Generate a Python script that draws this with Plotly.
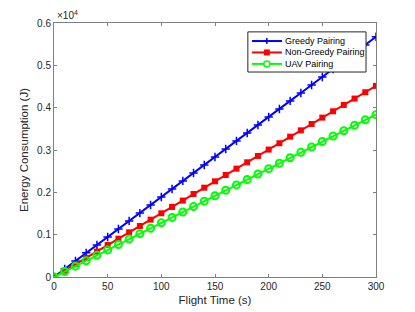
import plotly.graph_objects as go

flight_time = [0, 10, 20, 30, 40, 50, 60, 70, 80, 90, 100, 110, 120, 130, 140, 150,
               160, 170, 180, 190, 200, 210, 220, 230, 240, 250, 260, 270, 280, 290, 300]
greedy = [0, 190, 380, 570, 755, 945, 1135, 1325, 1510, 1700, 1890, 2080, 2270, 2455, 2645,
          2835, 3025, 3215, 3400, 3590, 3780, 3970, 4160, 4345, 4535, 4725, 4915, 5100, 5290, 5480, 5675]
non_greedy = [0, 150, 300, 450, 600, 755, 905, 1055, 1205, 1355, 1505, 1655, 1805, 1960, 2110,
              2260, 2410, 2560, 2710, 2860, 3010, 3160, 3315, 3465, 3615, 3765, 3915, 4065, 4215, 4365, 4515]
uav = [0, 128, 256, 384, 512, 640, 768, 896, 1024, 1152, 1280, 1408, 1536, 1664, 1792,
       1920, 2048, 2176, 2304, 2432, 2560, 2688, 2816, 2944, 3072, 3200, 3328, 3456, 3584, 3712, 3835]
series_names = ["Greedy Pairing", "Non-Greedy Pairing", "UAV Pairing"]
series_colors = ["#0000ff", "#ff0000", "#00ff00"]
y_ticks = [0, 1000, 2000, 3000, 4000, 5000, 6000]
y_labels = ["0", "0.1", "0.2", "0.3", "0.4", "0.5", "0.6"]
x_ticks = [0, 50, 100, 150, 200, 250, 300]

FONT = "Liberation Sans, Arial, Helvetica"
TXT = "#262626"

fig = go.Figure()
fig.add_trace(go.Scatter(x=flight_time, y=greedy, name=series_names[0], mode="lines+markers",
                         line=dict(color=series_colors[0], width=2),
                         marker=dict(symbol="cross-thin-open", size=6, line=dict(color=series_colors[0], width=1.5))))
fig.add_trace(go.Scatter(x=flight_time, y=non_greedy, name=series_names[1], mode="lines+markers",
                         line=dict(color=series_colors[1], width=2),
                         marker=dict(symbol="square", size=6, color=series_colors[1])))
fig.add_trace(go.Scatter(x=flight_time, y=uav, name=series_names[2], mode="lines+markers",
                         line=dict(color=series_colors[2], width=2),
                         marker=dict(symbol="circle-open", size=7, line=dict(color=series_colors[2], width=2))))

axis_common = dict(showgrid=False, zeroline=False, showline=True, linecolor="#808080", linewidth=1,
                   mirror="ticks", ticks="inside", ticklen=3, tickcolor="#808080", automargin=False,
                   tickfont=dict(family=FONT, size=10, color=TXT))
fig.update_xaxes(range=[0, 300], tickvals=x_ticks,
                 title=dict(text="Flight Time (s)", font=dict(family=FONT, size=11.5, color=TXT), standoff=4),
                 **axis_common)
fig.update_yaxes(range=[0, 6000], tickvals=y_ticks, ticktext=y_labels,
                 title=dict(text="Energy Consumption (J)", font=dict(family=FONT, size=11.5, color=TXT), standoff=6),
                 **axis_common)

fig.add_annotation(x=0, y=1, xref="paper", yref="paper", xanchor="left", yanchor="bottom",
                   text="×10<sup>4</sup>", showarrow=False, xshift=1,
                   font=dict(family=FONT, size=10, color=TXT))

# manual compact legend (MATLAB style)
box = dict(x0=0.602, x1=0.969, y0=0.807, y1=0.965)
fig.add_shape(type="rect", xref="paper", yref="paper", line=dict(color=TXT, width=1),
              fillcolor="white", layer="above", **box)
rows = [0.929, 0.884, 0.839]
lx0, lx1, mx, tx = 0.615, 0.708, 0.661, 0.711
dx, dy = 3 / 322, 3 / 254
for i, (nm, col) in enumerate(zip(series_names, series_colors)):
    ry = rows[i]
    fig.add_shape(type="line", xref="paper", yref="paper", x0=lx0, x1=lx1, y0=ry, y1=ry,
                  line=dict(color=col, width=2), layer="above")
    if i == 0:
        fig.add_shape(type="line", xref="paper", yref="paper", x0=mx - dx, x1=mx + dx, y0=ry, y1=ry,
                      line=dict(color=col, width=1.5), layer="above")
        fig.add_shape(type="line", xref="paper", yref="paper", x0=mx, x1=mx, y0=ry - dy, y1=ry + dy,
                      line=dict(color=col, width=1.5), layer="above")
    elif i == 1:
        fig.add_shape(type="rect", xref="paper", yref="paper", x0=mx - dx, x1=mx + dx, y0=ry - dy, y1=ry + dy,
                      line=dict(color=col, width=0), fillcolor=col, layer="above")
    else:
        fig.add_shape(type="circle", xref="paper", yref="paper", x0=mx - dx, x1=mx + dx, y0=ry - dy, y1=ry + dy,
                      line=dict(color=col, width=1.5), fillcolor="white", layer="above")
    fig.add_annotation(x=tx, y=ry, xref="paper", yref="paper", xanchor="left", yanchor="middle",
                       text=nm, showarrow=False, font=dict(family=FONT, size=9, color="#000000"))

# page body has an 8px margin, so the plot area is offset to match the reference
fig.update_layout(width=415, height=312, margin=dict(l=46, r=47, t=15, b=43),
                  plot_bgcolor="white", paper_bgcolor="white", showlegend=False)
fig.write_html("out.html")
